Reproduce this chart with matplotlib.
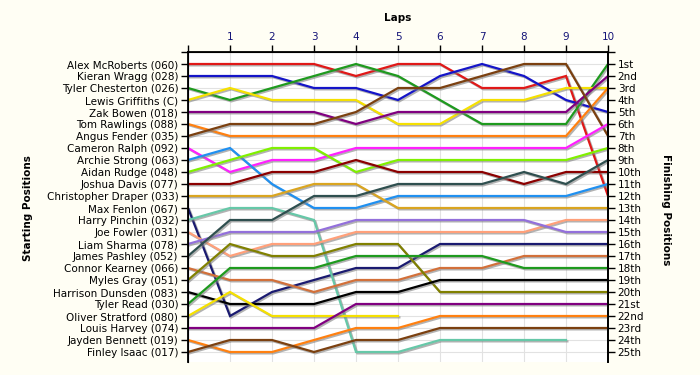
import numpy as np
import matplotlib
matplotlib.use("Agg")
import matplotlib.pyplot as plt
import matplotlib.patheffects as pe

# lap numbers (0 = grid)
laps = list(range(11))

drivers = [
    "Alex McRoberts (060)", "Kieran Wragg (028)", "Tyler Chesterton (026)",
    "Lewis Griffiths (C)", "Zak Bowen (018)", "Tom Rawlings (088)",
    "Angus Fender (035)", "Cameron Ralph (092)", "Archie Strong (063)",
    "Aidan Rudge (048)", "Joshua Davis (077)", "Christopher Draper (033)",
    "Max Fenlon (067)", "Harry Pinchin (032)", "Joe Fowler (031)",
    "Liam Sharma (078)", "James Pashley (052)", "Connor Kearney (066)",
    "Myles Gray (051)", "Harrison Dunsden (083)", "Tyler Read (030)",
    "Oliver Stratford (080)", "Louis Harvey (074)", "Jayden Bennett (019)",
    "Finley Isaac (017)",
]

finish_labels = ["1st", "2nd", "3rd", "4th", "5th", "6th", "7th", "8th", "9th",
                 "10th", "11th", "12th", "13th", "14th", "15th", "16th", "17th",
                 "18th", "19th", "20th", "21st", "22nd", "23rd", "24th", "25th"]

# position at each lap, per driver (shorter list = retired)
mcroberts = [1, 1, 1, 1, 2, 1, 1, 3, 3, 2, 12]
wragg = [2, 2, 2, 3, 3, 4, 2, 1, 2, 4, 5]
chesterton = [3, 4, 3, 2, 1, 2, 4, 6, 6, 6, 1]
griffiths = [4, 3, 4, 4, 4, 6, 6, 4, 4, 3, 3]
bowen = [5, 5, 5, 5, 6, 5, 5, 5, 5, 5, 2]
rawlings = [6, 7, 7, 7, 7, 7, 7, 7, 7, 7, 3]
fender = [7, 6, 6, 6, 5, 3, 3, 2, 1, 1, 7]
ralph = [8, 10, 9, 9, 8, 8, 8, 8, 8, 8, 6]
strong = [9, 8, 11, 13, 13, 12, 12, 12, 12, 12, 11]
rudge = [10, 9, 8, 8, 10, 9, 9, 9, 9, 9, 8]
davis = [11, 11, 10, 10, 9, 10, 10, 10, 11, 10, 10]
draper = [12, 12, 12, 11, 11, 13, 13, 13, 13, 13, 13]
fenlon = [13, 22, 20, 19, 18, 18, 16, 16, 16, 16, 16]
pinchin = [14, 13, 13, 14, 25, 25, 24, 24, 24, 24]
fowler = [15, 17, 16, 16, 15, 15, 15, 15, 15, 14, 14]
sharma = [16, 15, 15, 15, 14, 14, 14, 14, 14, 15, 15]
pashley = [17, 14, 14, 12, 12, 11, 11, 11, 10, 11, 9]
kearney = [18, 19, 19, 20, 19, 19, 18, 18, 17, 17, 17]
gray = [19, 16, 17, 17, 16, 16, 20, 20, 20, 20, 20]
dunsden = [20, 21, 21, 21, 20, 20, 19, 19, 19, 19, 19]
read = [21, 18, 18, 18, 17, 17, 17, 17, 18, 18, 18]
stratford = [22, 20, 22, 22, 22, 22]
harvey = [23, 23, 23, 23, 21, 21, 21, 21, 21, 21, 21]
bennett = [24, 25, 25, 24, 23, 23, 22, 22, 22, 22, 22]
isaac = [25, 24, 24, 25, 24, 24, 23, 23, 23, 23, 23]

positions = [mcroberts, wragg, chesterton, griffiths, bowen, rawlings, fender,
             ralph, strong, rudge, davis, draper, fenlon, pinchin, fowler,
             sharma, pashley, kearney, gray, dunsden, read, stratford, harvey,
             bennett, isaac]

colors = ["#e01818", "#1414c8", "#1e9a1e", "#f5e000", "#800080", "#ff8010",
          "#7b4010", "#ff20ff", "#2090f0", "#80f000", "#8b0000", "#daa520",
          "#1a1a70", "#66c8a8", "#ffa07a", "#9370db", "#2f4f4f", "#d2703a",
          "#808000", "#000000", "#1e9a1e", "#f5e000", "#800080", "#ff8010",
          "#7b4010"]

bg = "#fffef4"
fig = plt.figure(figsize=(7, 3.75), dpi=100, facecolor=bg)
ax = fig.add_axes([188 / 700, 1 - 362 / 375, 420 / 700, 310 / 375])
ax.set_facecolor("white")

shadow = [pe.SimpleLineShadow(offset=(1, -1), shadow_color="gray", alpha=0.6),
          pe.Normal()]
for pos, col in zip(positions, colors):
    ax.plot(laps[:len(pos)], pos, color=col, lw=1.6, solid_joinstyle="miter",
            path_effects=shadow, zorder=3)

ax.set_xlim(0, 10)
ax.set_ylim(310 / 12, 0)

ax.grid(True, color="#e2e2e2", lw=0.8, zorder=0)
ax.set_axisbelow(True)

ax.xaxis.tick_top()
ax.set_xticks(laps)
ax.set_xticklabels([""] + [str(l) for l in laps[1:]], fontsize=7.5, color="#141478")
ax.set_yticks(range(26))
ax.set_yticklabels([""] + drivers, fontsize=7.5)

ax.spines["bottom"].set_visible(False)
for s in ["top", "left", "right"]:
    ax.spines[s].set_linewidth(1.3)
ax.tick_params(axis="both", direction="out", length=5, width=1, pad=2)

ax2 = ax.twinx()
ax2.set_ylim(ax.get_ylim())
ax2.set_yticks(range(26))
ax2.set_yticklabels([""] + finish_labels, fontsize=7.5)
ax2.tick_params(axis="y", direction="out", length=5, width=1, pad=2)
ax2.spines["bottom"].set_visible(False)
ax2.spines["right"].set_linewidth(1.3)

fig.text(398 / 700, 1 - 18 / 375, "Laps", ha="center", va="center",
         fontsize=7.5, fontweight="bold")
fig.text(28 / 700, 1 - 208 / 375, "Starting Positions", ha="center", va="center",
         rotation=90, fontsize=7.5, fontweight="bold")
fig.text(666 / 700, 1 - 210 / 375, "Finishing Positions", ha="center", va="center",
         rotation=270, fontsize=7.5, fontweight="bold")

fig.savefig("out.png", dpi=100, facecolor=bg)
